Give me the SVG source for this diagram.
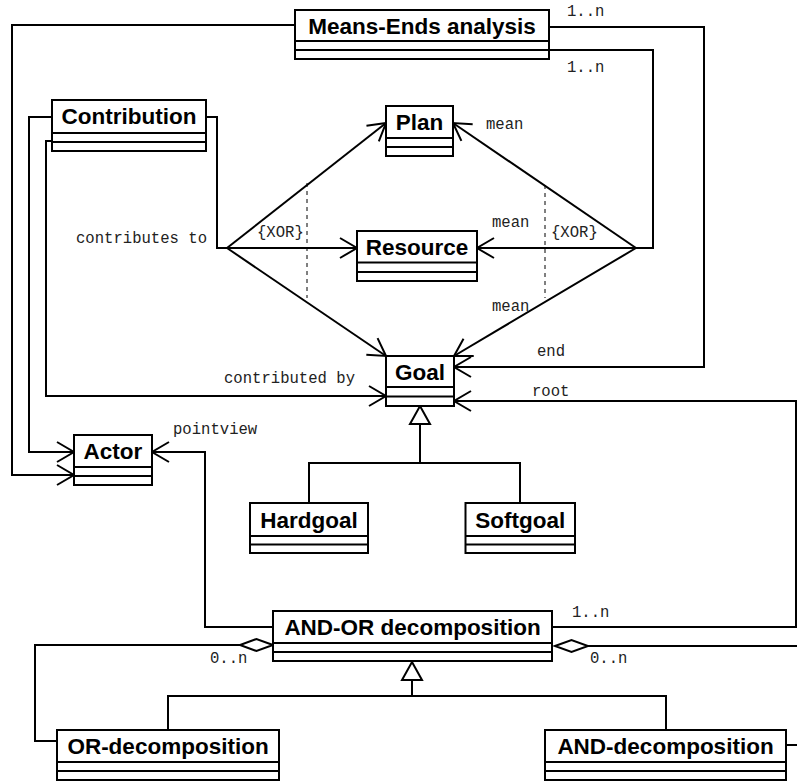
<svg xmlns="http://www.w3.org/2000/svg" width="797" height="781" viewBox="0 0 797 781">
<style>
.box{fill:#fff;stroke:#000;stroke-width:2}
.sep{stroke:#000;stroke-width:2}
.t{font-family:"Liberation Sans",Arial,sans-serif;font-weight:bold;font-size:22.5px;text-anchor:middle;fill:#000}
.l{font-family:"Liberation Mono","Courier New",monospace;font-size:15.6px;fill:#222}
.c{fill:none;stroke:#000;stroke-width:2}
.d{fill:none;stroke:#000;stroke-width:1;stroke-dasharray:4 4}
.a{marker-end:url(#arr)}
.h{fill:#fff;stroke:#000;stroke-width:2}
</style>
<defs>
<marker id="arr" markerUnits="userSpaceOnUse" markerWidth="24" markerHeight="24" viewBox="-20 -12 24 24" refX="0" refY="0" orient="auto" overflow="visible">
<path d="M-17,-10 L0,0 L-17,10" fill="none" stroke="#000" stroke-width="2"/>
</marker>
</defs>
<rect width="797" height="781" fill="#fff"/>
<g id="connectors">
<polyline class="c a" points="295,25 12,25 12,475 74,475"/>
<polyline class="c a" points="52,117 29,117 29,452 74,452"/>
<polyline class="c a" points="52,141 46,141 46,396 386,396"/>
<polyline class="c" points="206,117 217,117 217,248 227,248"/>
<line class="c a" x1="227" y1="248" x2="386" y2="123"/>
<line class="c a" x1="227" y1="248" x2="357" y2="248"/>
<line class="c a" x1="227" y1="248" x2="386" y2="356"/>
<polyline class="c" points="549,50 653,50 653,248 636,248"/>
<line class="c a" x1="636" y1="248" x2="453" y2="123"/>
<line class="c a" x1="636" y1="248" x2="477" y2="248"/>
<line class="c a" x1="636" y1="248" x2="454" y2="356"/>
<polyline class="c a" points="549,27 704,27 704,367 454,367"/>
<polyline class="c a" points="552,627 796,627 796,401 454,401"/>
<polyline class="c a" points="273,627 205,627 205,452 152,452"/>
<line class="d" x1="307" y1="183" x2="307" y2="298"/>
<line class="d" x1="545" y1="185" x2="545" y2="298"/>
<polyline class="c" points="420,424 420,463"/>
<polyline class="c" points="309,503 309,463 520,463 520,503"/>
<polygon class="h" points="420,406 430,424 410,424"/>
<polyline class="c" points="412,680 412,696"/>
<polyline class="c" points="168,730 168,696 666,696 666,730"/>
<polygon class="h" points="412,662 422,680 402,680"/>
<polyline class="c" points="240,645 35,645 35,741 57,741"/>
<polygon class="h" points="273,645 256.5,639 240,645 256.5,651"/>
<line class="c" x1="588" y1="646" x2="797" y2="646"/>
<polygon class="h" points="555,646 571.5,640 588,646 571.5,652"/>
<line class="c" x1="786" y1="745" x2="797" y2="745"/>
<text class="l" x="567" y="16">1..n</text>
<text class="l" x="567" y="72">1..n</text>
<text class="l" x="486" y="129">mean</text>
<text class="l" x="492" y="227">mean</text>
<text class="l" x="551" y="237">{XOR}</text>
<text class="l" x="257" y="237">{XOR}</text>
<text class="l" x="76" y="243">contributes to</text>
<text class="l" x="492" y="311">mean</text>
<text class="l" x="537" y="356">end</text>
<text class="l" x="224" y="383">contributed by</text>
<text class="l" x="532" y="396">root</text>
<text class="l" x="173" y="434">pointview</text>
<text class="l" x="572" y="617">1..n</text>
<text class="l" x="210" y="663">0..n</text>
<text class="l" x="590" y="663">0..n</text>
</g>
<g id="means-ends">
<rect class="box" x="295" y="10" width="254" height="49"/>
<line class="sep" x1="295" y1="41" x2="549" y2="41"/>
<line class="sep" x1="295" y1="50" x2="549" y2="50"/>
<text class="t" x="422" y="33.5">Means-Ends analysis</text>
</g>
<g id="contribution">
<rect class="box" x="52" y="100" width="154" height="51"/>
<line class="sep" x1="52" y1="133" x2="206" y2="133"/>
<line class="sep" x1="52" y1="142" x2="206" y2="142"/>
<text class="t" x="129" y="124">Contribution</text>
</g>
<g id="plan">
<rect class="box" x="386" y="106" width="67" height="50"/>
<line class="sep" x1="386" y1="138" x2="453" y2="138"/>
<line class="sep" x1="386" y1="147" x2="453" y2="147"/>
<text class="t" x="419.5" y="130">Plan</text>
</g>
<g id="resource">
<rect class="box" x="357" y="231" width="120" height="50"/>
<line class="sep" x1="357" y1="262.5" x2="477" y2="262.5"/>
<line class="sep" x1="357" y1="272" x2="477" y2="272"/>
<text class="t" x="417" y="254.5">Resource</text>
</g>
<g id="goal">
<rect class="box" x="386" y="356" width="68" height="50"/>
<line class="sep" x1="386" y1="387" x2="454" y2="387"/>
<line class="sep" x1="386" y1="396.5" x2="454" y2="396.5"/>
<text class="t" x="420" y="379.5">Goal</text>
</g>
<g id="actor">
<rect class="box" x="74" y="435" width="78" height="50"/>
<line class="sep" x1="74" y1="467" x2="152" y2="467"/>
<line class="sep" x1="74" y1="476" x2="152" y2="476"/>
<text class="t" x="113" y="459">Actor</text>
</g>
<g id="hardgoal">
<rect class="box" x="250" y="503" width="118" height="50"/>
<line class="sep" x1="250" y1="536" x2="368" y2="536"/>
<line class="sep" x1="250" y1="544.5" x2="368" y2="544.5"/>
<text class="t" x="309" y="527.5">Hardgoal</text>
</g>
<g id="softgoal">
<rect class="box" x="465.5" y="503" width="109.5" height="50"/>
<line class="sep" x1="465.5" y1="536" x2="575" y2="536"/>
<line class="sep" x1="465.5" y1="544.5" x2="575" y2="544.5"/>
<text class="t" x="520.25" y="527.5">Softgoal</text>
</g>
<g id="and-or">
<rect class="box" x="273" y="611" width="279" height="50"/>
<line class="sep" x1="273" y1="643" x2="552" y2="643"/>
<line class="sep" x1="273" y1="652" x2="552" y2="652"/>
<text class="t" x="412.5" y="635">AND-OR decomposition</text>
</g>
<g id="or-dec">
<rect class="box" x="57" y="730" width="222" height="50"/>
<line class="sep" x1="57" y1="762" x2="279" y2="762"/>
<line class="sep" x1="57" y1="771" x2="279" y2="771"/>
<text class="t" x="168" y="754">OR-decomposition</text>
</g>
<g id="and-dec">
<rect class="box" x="545" y="730" width="241" height="50"/>
<line class="sep" x1="545" y1="762" x2="786" y2="762"/>
<line class="sep" x1="545" y1="771" x2="786" y2="771"/>
<text class="t" x="665.5" y="754">AND-decomposition</text>
</g>
</svg>
